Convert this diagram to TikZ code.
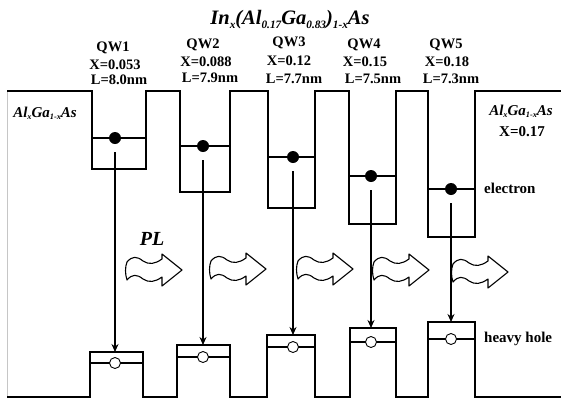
\documentclass[tikz,border=0pt]{standalone}
\usepackage{fontspec}
\usepackage{graphicx}
\setmainfont{Liberation Serif}
\usetikzlibrary{arrows.meta}
\newcommand{\sbx}[1]{\raisebox{-0.35ex}{\scalebox{0.55}{#1}}}
\tikzset{
  band/.style={line width=2pt, line join=miter},
  lvl/.style={line width=1.8pt},
  edot/.style={circle, fill=black, minimum size=12pt, inner sep=0pt},
  hdot/.style={circle, draw=black, fill=white, line width=0.9pt, minimum size=11pt, inner sep=0pt},
  trans/.style={line width=1.2pt, -{Stealth[length=8pt,width=7pt]}, shorten <=8pt},
  qwlab/.style={font=\fontsize{14.5}{14.5}\selectfont\bfseries, inner sep=0pt},
  biglab/.style={font=\fontsize{15}{15}\selectfont\bfseries, inner sep=0pt},
  itlab/.style={font=\fontsize{15}{15}\selectfont\bfseries\itshape, inner sep=0pt},
  plarrow/.pic={
    \draw[line width=1.1pt, line join=round]
      (0,-8) .. controls (5,-14) and (10,-14) .. (16,-9)
      .. controls (22,-5) and (28,-6) .. (35,-11)
      -- (35,-16) -- (55,0) -- (35,16) -- (35,7)
      .. controls (28,12) and (22,13) .. (16,9)
      .. controls (10,4) and (5,4) .. (0,10)
      .. controls (-2,4) and (-2,-3) .. cycle;
  }
}
\begin{document}
\begin{tikzpicture}[x=1pt,y=-1pt]
\useasboundingbox[fill=white] (0,0) rectangle (561,399);

% left gray edge
\draw[gray!45, line width=0.7pt] (7,91) -- (7,398);

% conduction band
\draw[band] (7,91) -- (92,91) -- (92,169) -- (146,169) -- (146,91) -- (180,91)
  -- (180,192) -- (230,192) -- (230,91) -- (268,91) -- (268,208) -- (315,208)
  -- (315,91) -- (349,91) -- (349,224) -- (396,224) -- (396,91) -- (428,91)
  -- (428,237) -- (475,237) -- (475,91) -- (561,91);

% valence band
\draw[band] (7,397) -- (90,397) -- (90,352) -- (143,352) -- (143,397) -- (177,397)
  -- (177,345) -- (230,345) -- (230,397) -- (267,397) -- (267,335) -- (315,335)
  -- (315,397) -- (350,397) -- (350,328) -- (396,328) -- (396,397) -- (428,397)
  -- (428,322) -- (475,322) -- (475,397) -- (561,397);

% electron levels
\draw[lvl] (92,138) -- (146,138);
\draw[lvl] (180,146) -- (230,146);
\draw[lvl] (268,157) -- (315,157);
\draw[lvl] (349,176) -- (396,176);
\draw[lvl] (428,189) -- (475,189);

% hole levels
\draw[lvl] (90,363) -- (143,363);
\draw[lvl] (177,357) -- (230,357);
\draw[lvl] (267,347) -- (315,347);
\draw[lvl] (350,342) -- (396,342);
\draw[lvl] (428,339) -- (475,339);

% electrons
\node[edot] (e1) at (115,138) {};
\node[edot] (e2) at (203,146) {};
\node[edot] (e3) at (293,157) {};
\node[edot] (e4) at (371,176) {};
\node[edot] (e5) at (451,189) {};

% valence well tops
\coordinate (v1) at (115,352);
\coordinate (v2) at (203,345);
\coordinate (v3) at (293,335);
\coordinate (v4) at (371,328);
\coordinate (v5) at (451,322);

% holes
\node[hdot] (h1) at (115,363) {};
\node[hdot] (h2) at (203,357) {};
\node[hdot] (h3) at (293,347) {};
\node[hdot] (h4) at (371,342) {};
\node[hdot] (h5) at (451,339) {};

% transitions
\draw[trans] (e1) -- (v1);
\draw[trans] (e2) -- (v2);
\draw[trans] (e3) -- (v3);
\draw[trans] (e4) -- (v4);
\draw[trans] (e5) -- (v5);

% PL arrows
\pic at (127,270) {plarrow};
\pic at (211,269) {plarrow};
\pic at (298,269) {plarrow};
\pic at (374,270) {plarrow};
\pic at (453,272) {plarrow};

% texts
\node[font=\fontsize{20.5}{20.5}\selectfont\bfseries\itshape, inner sep=0pt] (title) at (290,20)
  {In\sbx{x}(Al\sbx{0.17}Ga\sbx{0.83})\sbx{1-x}As};

\node[qwlab] (q1) at (113,48) {QW1};
\node[qwlab] (x1) at (115,65) {X=0.053};
\node[qwlab] (l1) at (119,80) {L=8.0nm};

\node[qwlab] (q2) at (203,45) {QW2};
\node[qwlab] (x2) at (206,62) {X=0.088};
\node[qwlab] (l2) at (210,78) {L=7.9nm};

\node[qwlab] (q3) at (289,43) {QW3};
\node[qwlab] (x3) at (289,61) {X=0.12};
\node[qwlab] (l3) at (294,79) {L=7.7nm};

\node[qwlab] (q4) at (364,45) {QW4};
\node[qwlab] (x4) at (365,62) {X=0.15};
\node[qwlab] (l4) at (373,79) {L=7.5nm};

\node[qwlab] (q5) at (446,45) {QW5};
\node[qwlab] (x5) at (447,62) {X=0.18};
\node[qwlab] (l5) at (451,79) {L=7.3nm};

\node[itlab] (lb) at (45,113) {Al\sbx{x}Ga\sbx{1-x}As};
\node[itlab] (rb) at (521,111) {Al\sbx{x}Ga\sbx{1-x}As};
\node[biglab] (rx) at (522,132) {X=0.17};

\node[biglab, anchor=west] (el) at (484,188) {electron};
\node[biglab, anchor=west] (hh) at (484,339) {heavy hole};

\node[font=\fontsize{20}{20}\selectfont\bfseries\itshape, inner sep=0pt] (pl) at (152,239) {PL};
\end{tikzpicture}
\end{document}
